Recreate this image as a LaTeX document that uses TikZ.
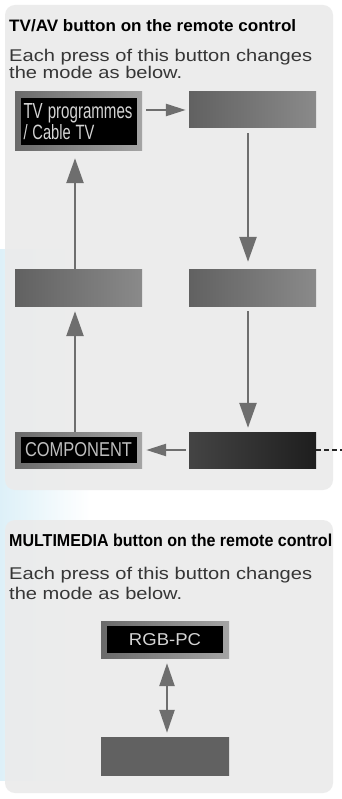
\documentclass[tikz,border=0pt]{standalone}
\usepackage{fontspec}
\setmainfont{Liberation Sans}
\usepackage{graphicx}
\usetikzlibrary{arrows.meta,positioning}

\definecolor{panelgray}{HTML}{EBEBEB}
\definecolor{arrowgray}{HTML}{6E6E6E}
\definecolor{paleblue}{HTML}{DDF0F8}
\definecolor{boxdark}{HTML}{616161}
\definecolor{boxlight}{HTML}{8A8A8A}
\definecolor{framedark}{HTML}{6A6A6A}
\definecolor{framelight}{HTML}{A4A4A4}
\definecolor{nightdark}{HTML}{1E1E1E}
\definecolor{nightlight}{HTML}{444444}
\definecolor{screentext}{HTML}{D4D4D4}
\definecolor{subtext}{HTML}{363636}

\tikzset{
  panel/.style={fill=panelgray, fill opacity=0.9, rounded corners=10pt},
  modebox/.style={minimum width=127pt, minimum height=37pt, inner sep=0pt,
    left color=boxdark, right color=boxlight},
  nightbox/.style={minimum width=127pt, minimum height=36pt, inner sep=0pt,
    left color=nightlight, right color=nightdark},
  framebox/.style={inner sep=0pt, left color=framedark, right color=framelight},
  screen/.style={fill=black, inner sep=0pt, text=screentext},
  flow/.style={draw=arrowgray, line width=2.5pt, -{Triangle[length=25pt,width=17pt]}},
  sideflow/.style={draw=arrowgray, line width=2.5pt, -{Triangle[length=20pt,width=12pt]}},
  swap/.style={draw=arrowgray, line width=2.5pt, {Triangle[length=23pt,width=15pt]}-{Triangle[length=23pt,width=15pt]}},
  heading/.style={anchor=base west, inner sep=0pt, text=black, font=\bfseries\fontsize{17}{17}\selectfont},
  remark/.style={anchor=base west, inner sep=0pt, text=subtext, font=\fontsize{17}{17}\selectfont}
}

\begin{document}
\begin{tikzpicture}[x=1pt,y=-1pt]
\useasboundingbox (0,0) rectangle (342,799);
\fill[white] (0,0) rectangle (342,799);
\shade[left color=paleblue, right color=white] (0,250) rectangle (90,780);

\fill[panel] (5,5) rectangle (333,490);
\fill[panel] (5,520) rectangle (333,793);

\node[heading] (titletv) at (9,32) {\resizebox{287pt}{12pt}{TV/AV button on the remote control}};
\node[remark] (pressa) at (9,62) {\resizebox{303pt}{12.3pt}{Each press of this button changes}};
\node[remark] (pressb) at (9,79) {\resizebox{173pt}{12.3pt}{the mode as below.}};

\node[framebox, minimum width=127pt, minimum height=59pt] (tv) at (78.5,121.5) {};
\node[screen, minimum width=116pt, minimum height=47pt, text width=110pt, align=left,
  font=\fontsize{20}{21}\selectfont] (tvscreen) at (tv.center)
  {\resizebox{109pt}{15pt}{TV programmes}\\\resizebox{71pt}{15pt}{/ Cable TV}};
\node[modebox, minimum height=36pt] (modea) at (252.5,110) {};
\node[modebox] (modeb) at (252.5,287.5) {};
\node[modebox] (modef) at (78.5,287.5) {};
\node[nightbox] (modec) at (252.5,450) {};
\node[framebox, minimum width=127pt, minimum height=36pt] (comp) at (78.5,450) {};
\node[screen, minimum width=116pt, minimum height=26pt, text=screentext!75!gray,
  font=\fontsize{19}{19}\selectfont] (compscreen) at (comp.center)
  {\resizebox{107pt}{14pt}{COMPONENT}};
\coordinate (dashend) at (342,450);

\draw[sideflow, shorten <=4pt, shorten >=3pt] (modea.west -| tv.east) -- (modea.west);
\draw[flow, shorten <=5pt, shorten >=7pt] ([xshift=-4.5pt]modea.south) -- ([xshift=-4.5pt]modeb.north);
\draw[flow, shorten <=5pt, shorten >=4pt] ([xshift=-4.5pt]modeb.south) -- ([xshift=-4.5pt]modec.north);
\draw[sideflow, shorten <=3pt, shorten >=4pt] (modec.west) -- (comp.east);
\draw[flow, shorten >=5pt] ([xshift=-3.5pt]comp.north) -- ([xshift=-3.5pt]modef.south);
\draw[flow, shorten >=7pt] ([xshift=-3.5pt]modef.north) -- ([xshift=-3.5pt]tv.south);
\draw[black!85, line width=2pt, dash pattern=on 5pt off 3pt] (modec.east) -- (dashend);

\node[heading] (titlemm) at (9,546) {\resizebox{323pt}{12.5pt}{MULTIMEDIA button on the remote control}};
\node[remark] (pressc) at (9,579) {\resizebox{303pt}{12.3pt}{Each press of this button changes}};
\node[remark] (pressd) at (9,599) {\resizebox{173pt}{12.3pt}{the mode as below.}};

\node[framebox, minimum width=128pt, minimum height=37pt] (rgbpc) at (165,639.5) {};
\node[screen, minimum width=116pt, minimum height=27pt,
  font=\fontsize{17}{17}\selectfont] (rgbscreen) at (rgbpc.center)
  {\resizebox{72pt}{12pt}{RGB-PC}};
\node[minimum width=128pt, minimum height=38pt, inner sep=0pt,
  left color=boxdark, middle color=boxlight, right color=boxdark] (mmode) at (165,756) {};

\draw[swap, shorten <=5pt, shorten >=4pt] ([xshift=2pt]rgbpc.south) -- ([xshift=2pt]mmode.north);
\end{tikzpicture}
\end{document}
